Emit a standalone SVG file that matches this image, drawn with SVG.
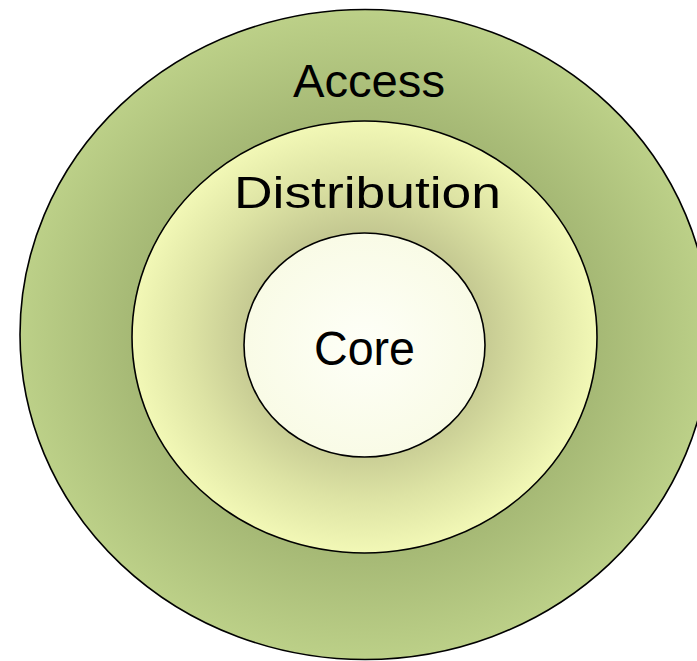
<svg xmlns="http://www.w3.org/2000/svg" width="697" height="661" viewBox="0 0 697 661">
<defs>
<radialGradient id="gOuter" cx="0.5" cy="0.5" r="0.5">
<stop offset="0" stop-color="#8fa060"/>
<stop offset="0.62" stop-color="#a2b572"/>
<stop offset="1" stop-color="#bcd088"/>
</radialGradient>
<radialGradient id="gMid" cx="0.5" cy="0.5" r="0.5">
<stop offset="0.45" stop-color="#c0c48e"/>
<stop offset="0.75" stop-color="#dde3a4"/>
<stop offset="1" stop-color="#f2f8b6"/>
</radialGradient>
<radialGradient id="gCore" cx="0.5" cy="0.5" r="0.5">
<stop offset="0" stop-color="#fefff8"/>
<stop offset="1" stop-color="#f9fbe6"/>
</radialGradient>
</defs>
<style>
.ring{stroke:#000;stroke-width:1.6}
.lbl{font-family:"Liberation Sans",Arial,sans-serif;fill:#000;text-anchor:middle}
</style>
<rect width="697" height="661" fill="#fff"/>
<g id="access">
<ellipse class="ring" cx="365" cy="334.5" rx="345" ry="325" fill="url(#gOuter)"/>
<text class="lbl" x="369" y="97" font-size="46" textLength="152" lengthAdjust="spacingAndGlyphs">Access</text>
</g>
<g id="distribution">
<ellipse class="ring" cx="364.5" cy="337" rx="232.5" ry="216" fill="url(#gMid)"/>
<text class="lbl" x="367.5" y="208" font-size="45" textLength="267" lengthAdjust="spacingAndGlyphs">Distribution</text>
</g>
<g id="core">
<ellipse class="ring" cx="364.5" cy="345" rx="120.5" ry="112" fill="url(#gCore)"/>
<text class="lbl" x="364.5" y="365" font-size="48" textLength="101" lengthAdjust="spacingAndGlyphs">Core</text>
</g>
<g id="connectors"/>
</svg>
